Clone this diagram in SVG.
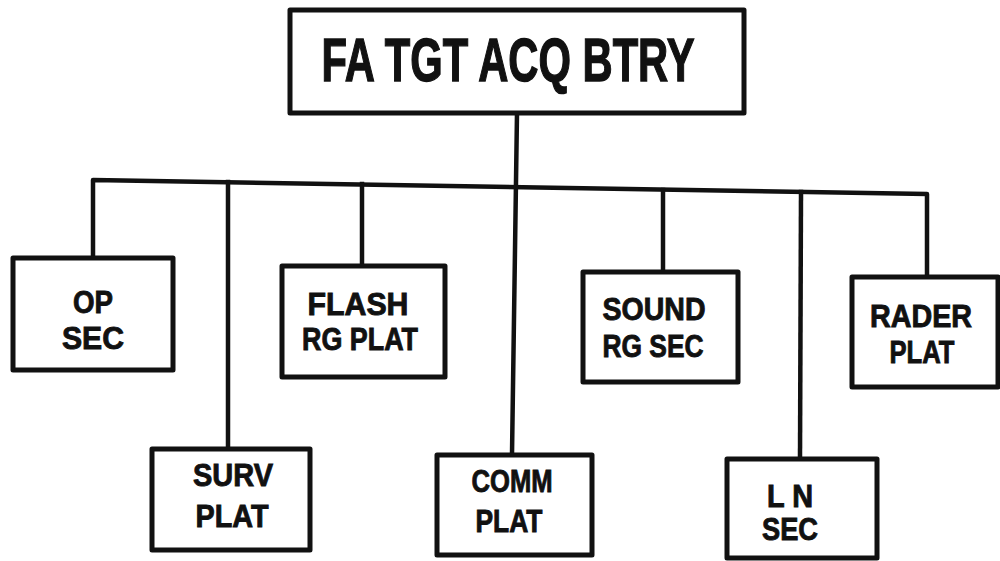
<svg xmlns="http://www.w3.org/2000/svg" width="1000" height="561" viewBox="0 0 1000 561">
<style>
.box{fill:#fff;stroke:#111;stroke-width:5;stroke-linejoin:round}
.ln{fill:none;stroke:#111;stroke-width:4.5;stroke-linejoin:round;stroke-linecap:square}
.t{font-family:"Liberation Sans",Arial,sans-serif;font-weight:bold;fill:#111;stroke:#111;stroke-width:0.9;text-anchor:middle}
.s{font-size:32px}
.big{font-size:62px;stroke-width:1.4}
</style>
<rect width="1000" height="561" fill="#fff"/>
<g id="connectors">
<polyline class="ln" points="93,258 93,180 927,194 927,277"/>
<line class="ln" x1="517" y1="113" x2="512" y2="455"/>
<line class="ln" x1="228" y1="182" x2="228" y2="449"/>
<line class="ln" x1="362" y1="184" x2="362" y2="266"/>
<line class="ln" x1="663" y1="190" x2="663" y2="272"/>
<line class="ln" x1="801" y1="192" x2="800" y2="459"/>
</g>
<g id="top">
<rect class="box" x="290" y="10" width="454" height="103"/>
<text class="t big" x="508" y="81" textLength="373" lengthAdjust="spacingAndGlyphs">FA TGT ACQ BTRY</text>
</g>
<g id="op-sec">
<rect class="box" x="13" y="258" width="160" height="112"/>
<text class="t s" x="93" y="313" textLength="40" lengthAdjust="spacingAndGlyphs">OP</text>
<text class="t s" x="93" y="349" textLength="62" lengthAdjust="spacingAndGlyphs">SEC</text>
</g>
<g id="flash">
<rect class="box" x="282" y="266" width="163" height="111"/>
<text class="t s" x="358" y="315" textLength="101" lengthAdjust="spacingAndGlyphs">FLASH</text>
<text class="t s" x="360" y="350" textLength="116" lengthAdjust="spacingAndGlyphs">RG PLAT</text>
</g>
<g id="sound">
<rect class="box" x="583" y="272" width="155" height="110"/>
<text class="t s" x="654" y="320" textLength="103" lengthAdjust="spacingAndGlyphs">SOUND</text>
<text class="t s" x="653" y="357" textLength="101" lengthAdjust="spacingAndGlyphs">RG SEC</text>
</g>
<g id="rader">
<rect class="box" x="852" y="277" width="146" height="110"/>
<text class="t s" x="921" y="327" textLength="102" lengthAdjust="spacingAndGlyphs">RADER</text>
<text class="t s" x="922" y="363" textLength="65" lengthAdjust="spacingAndGlyphs">PLAT</text>
</g>
<g id="surv">
<rect class="box" x="152" y="449" width="158" height="101"/>
<text class="t s" x="233" y="486" textLength="80" lengthAdjust="spacingAndGlyphs">SURV</text>
<text class="t s" x="232" y="527" textLength="73" lengthAdjust="spacingAndGlyphs">PLAT</text>
</g>
<g id="comm">
<rect class="box" x="437" y="455" width="155" height="100"/>
<text class="t s" x="512" y="492" textLength="81" lengthAdjust="spacingAndGlyphs">COMM</text>
<text class="t s" x="509" y="532" textLength="67" lengthAdjust="spacingAndGlyphs">PLAT</text>
</g>
<g id="ln-sec">
<rect class="box" x="727" y="459" width="150" height="99"/>
<text class="t s" x="790" y="507" textLength="46" lengthAdjust="spacingAndGlyphs">L N</text>
<text class="t s" x="790" y="540" textLength="56" lengthAdjust="spacingAndGlyphs">SEC</text>
</g>
</svg>
